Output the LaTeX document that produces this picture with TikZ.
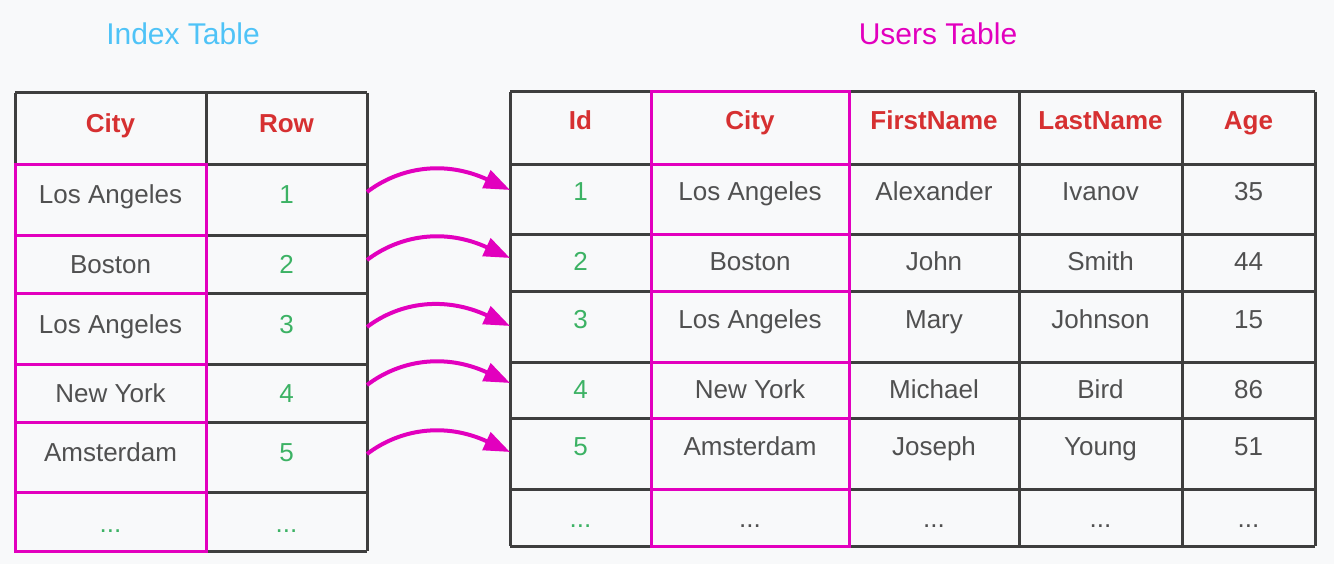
\documentclass[tikz,border=0pt]{standalone}
\usepackage{fontspec}
\setmainfont{Liberation Sans}
\usetikzlibrary{arrows.meta}
\definecolor{bgc}{RGB}{248,249,250}
\definecolor{gridc}{RGB}{62,62,62}
\definecolor{magc}{RGB}{226,0,190}
\definecolor{headc}{RGB}{214,48,49}
\definecolor{numc}{RGB}{60,178,100}
\definecolor{txtc}{RGB}{80,80,80}
\definecolor{titleblue}{RGB}{79,195,247}
\tikzset{
  gridline/.style={draw=gridc,line width=3pt},
  magline/.style={draw=magc,line width=3pt},
  celltext/.style={anchor=base,inner sep=0pt,text=txtc,font=\fontsize{26}{30}\selectfont},
  headtext/.style={celltext,text=headc,font=\fontsize{26}{30}\selectfont\bfseries},
  numtext/.style={celltext,text=numc},
  titletext/.style={anchor=base,inner sep=0pt,font=\fontsize{30}{36}\selectfont},
  conn/.style={draw=magc,line width=4pt,-{Triangle[length=26pt,width=19pt]}}
}
\begin{document}
\begin{tikzpicture}[x=1pt,y=-1pt]
\fill[bgc] (0,0) rectangle (1334,564);
\useasboundingbox (0,0) rectangle (1334,564);

% titles
\node[titletext,text=titleblue] (tidx) at (183,45) {Index Table};
\node[titletext,text=magc] (tusr) at (938,45) {Users Table};

% ---------- Index table grid ----------
\foreach \yy in {93,165,236,294,364,422,492,551}
  \draw[gridline] (15,\yy) -- (367,\yy);
\foreach \xx in {15,206,367}
  \draw[gridline] (\xx,93) -- (\xx,551);
\draw[magline] (15,165) rectangle (206,551);
\foreach \yy in {236,294,364,422,492}
  \draw[magline] (15,\yy) -- (206,\yy);

% ---------- Users table grid ----------
\foreach \yy in {92,165,235,292,362,418,489,546}
  \draw[gridline] (510,\yy) -- (1315,\yy);
\foreach \xx in {510,651,849,1019,1182,1315}
  \draw[gridline] (\xx,92) -- (\xx,546);
\draw[magline] (651,92) rectangle (849,546);
\foreach \yy in {165,235,292,362,418,489}
  \draw[magline] (651,\yy) -- (849,\yy);

% ---------- Index table text ----------
\node[headtext] (ihcity) at (110.5,133) {City};
\node[headtext] (ihrow) at (286.5,133) {Row};
\foreach \c/\r/\b in {Los Angeles/1/204, Boston/2/273, Los Angeles/3/333, New York/4/402, Amsterdam/5/461}{
  \node[celltext] (ic\r) at (110.5,\b) {\c};
  \node[numtext] (ir\r) at (286.5,\b) {\r};
}
\node[numtext] (ic6) at (110.5,532) {...};
\node[numtext] (ir6) at (286.5,532) {...};

% ---------- Users table text ----------
\node[headtext] (uhid) at (580.5,130) {Id};
\node[headtext] (uhcity) at (750,130) {City};
\node[headtext] (uhfirst) at (934,130) {FirstName};
\node[headtext] (uhlast) at (1100.5,130) {LastName};
\node[headtext] (uhage) at (1248.5,130) {Age};
\foreach \i/\c/\f/\l/\a/\b in {1/Los Angeles/Alexander/Ivanov/35/201, 2/Boston/John/Smith/44/271, 3/Los Angeles/Mary/Johnson/15/328, 4/New York/Michael/Bird/86/398, 5/Amsterdam/Joseph/Young/51/455}{
  \node[numtext] (uid\i) at (580.5,\b) {\i};
  \node[celltext] (ucity\i) at (750,\b) {\c};
  \node[celltext] (ufirst\i) at (934,\b) {\f};
  \node[celltext] (ulast\i) at (1100.5,\b) {\l};
  \node[celltext] (uage\i) at (1248.5,\b) {\a};
}
\node[numtext] (uid6) at (580.5,527) {...};
\node[celltext] (ucity6) at (750,527) {...};
\node[celltext] (ufirst6) at (934,527) {...};
\node[celltext] (ulast6) at (1100.5,527) {...};
\node[celltext] (uage6) at (1248.5,527) {...};

% ---------- connectors ----------
\foreach \i/\sy/\ey in {1/192/190, 2/260/258, 3/327/326, 4/385/383, 5/454/452}{
  \coordinate (s\i) at (367,\sy);
  \coordinate (e\i) at (510,\ey);
  \draw[conn] (s\i) .. controls +(33,-25) and +(-65,-30) .. (e\i);
}
\end{tikzpicture}
\end{document}
